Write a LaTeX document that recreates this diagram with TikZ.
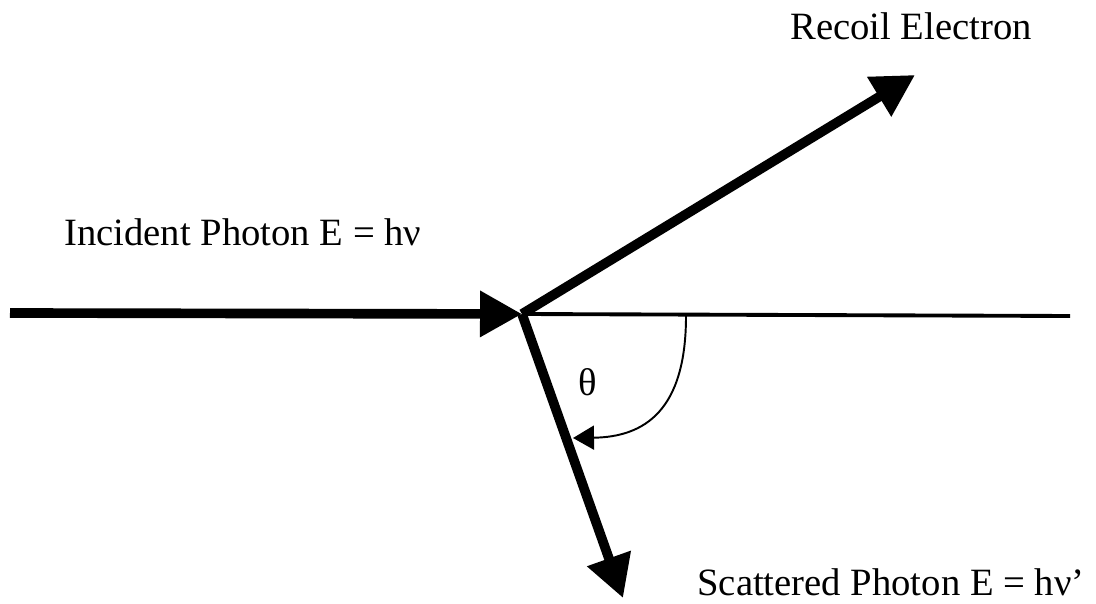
\documentclass[tikz,border=0pt]{standalone}
\usepackage{fontspec}
\setmainfont{Liberation Serif}
\usetikzlibrary{arrows.meta}
\tikzset{
  beam/.style={-{Triangle[length=0.84cm, width=0.88cm]}, line width=5.5pt},
  axis/.style={line width=2.2pt},
  sweep/.style={-{Triangle[length=0.42cm, width=0.48cm]}, line width=1.1pt},
  lbl/.style={font=\fontsize{22}{26}\selectfont, inner sep=0pt},
}
\begin{document}
\begin{tikzpicture}[x=0.02cm, y=-0.02cm]
  \useasboundingbox (0,0) rectangle (1096,604);
  \coordinate (src) at (10,313);
  \coordinate (hit) at (522,314);
  \coordinate (ax) at (1070,316);
  \coordinate (rec) at (915,75);
  \coordinate (sct) at (623,598);
  \coordinate (a0) at (686,316);
  \coordinate (a1) at (573,438);
  \node[lbl, anchor=base west] (inc) at (64,246) {Incident Photon E = hν};
  \node[lbl, anchor=base west] (el) at (790,40) {Recoil Electron};
  \node[lbl, anchor=base west] (out) at (697,596) {Scattered Photon E = hν’};
  \node[lbl] (th) at (588,382) {θ};
  \draw[axis] (hit) -- (ax);
  \draw[beam] (src) -- (hit);
  \draw[beam] (hit) -- (rec);
  \draw[beam] (hit) -- (sct);
  \draw[sweep] (a0) .. controls (686,410) and (645,437) .. (a1);
\end{tikzpicture}
\end{document}
